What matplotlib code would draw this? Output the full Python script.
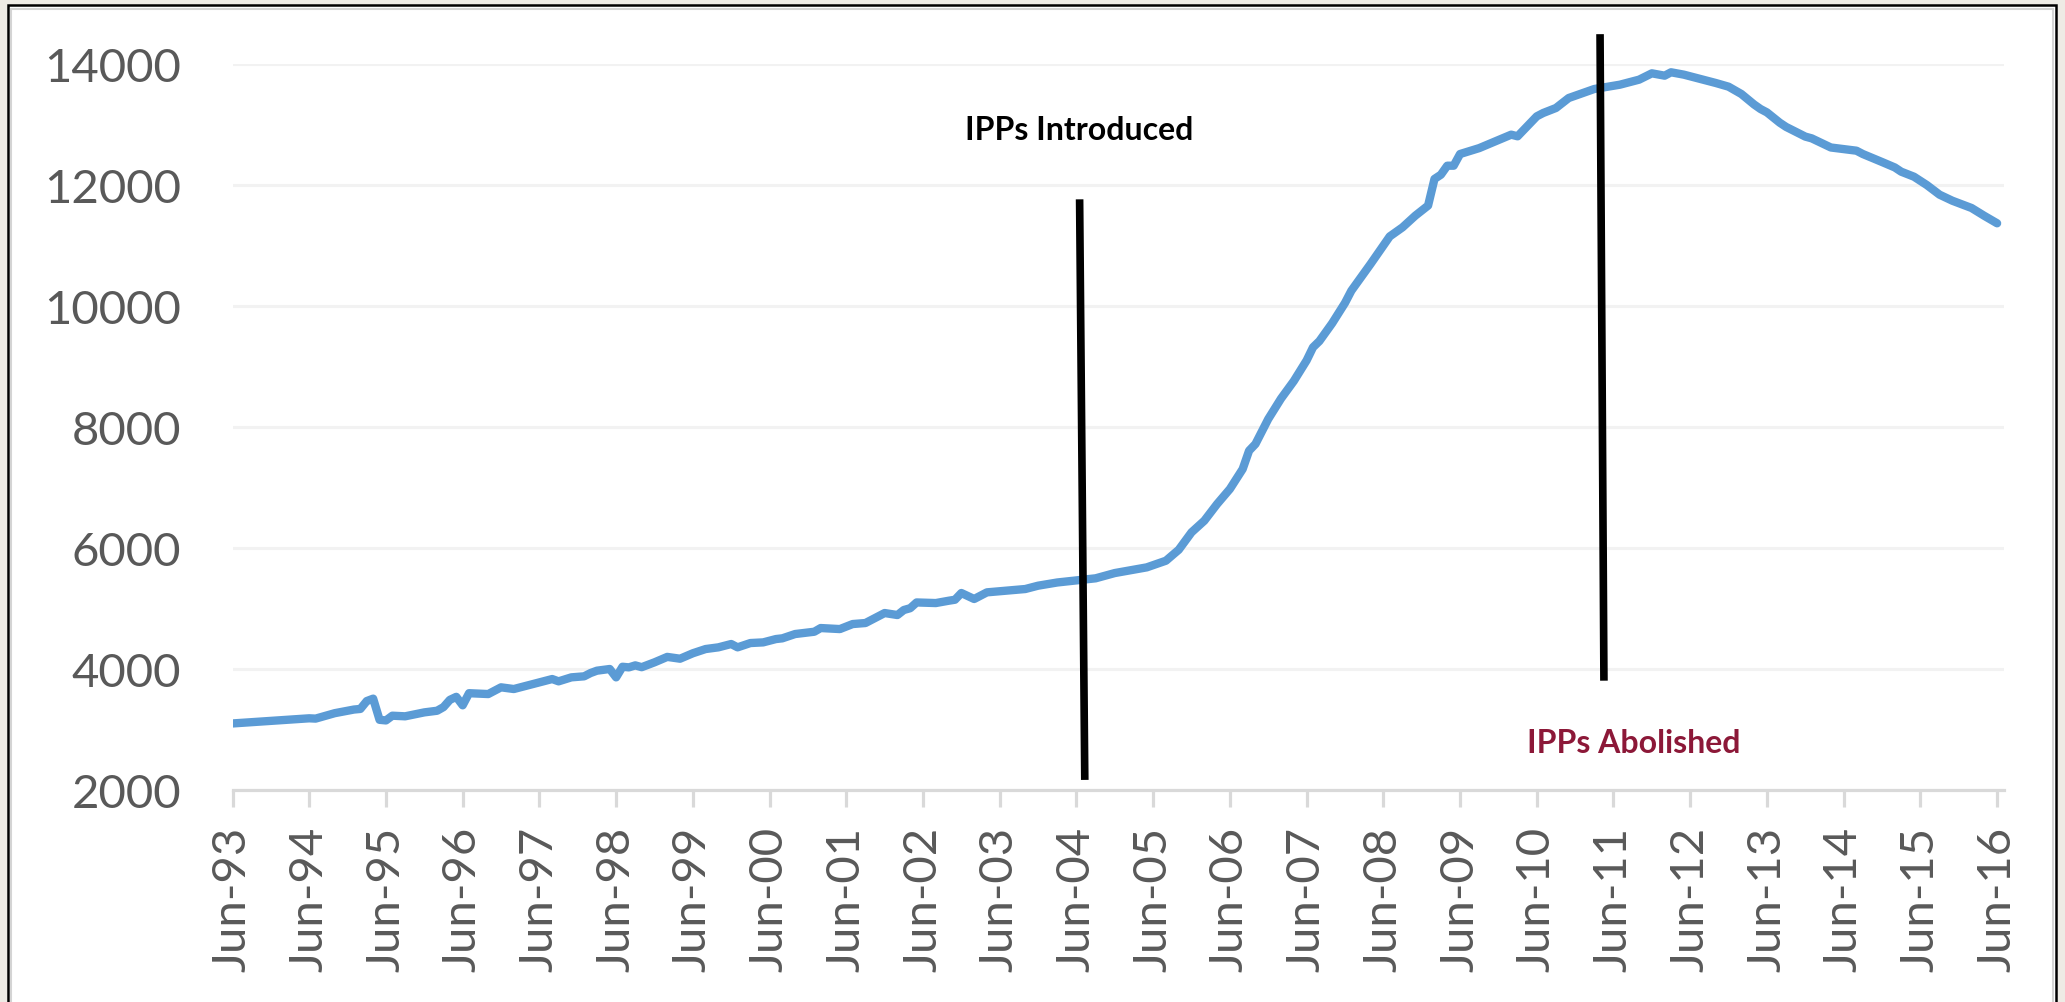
import matplotlib
matplotlib.use("Agg")
import matplotlib.pyplot as plt
from matplotlib.patches import Rectangle

# monthly series (year-month, value)
dates = [
    "1993-06", "1994-06", "1994-07", "1994-10", "1995-01", "1995-02", "1995-03",
    "1995-04", "1995-05", "1995-06", "1995-07", "1995-09", "1995-12", "1996-02",
    "1996-03", "1996-04", "1996-05", "1996-06", "1996-07", "1996-10", "1996-12",
    "1997-02", "1997-04", "1997-08", "1997-09", "1997-11", "1998-01", "1998-02",
    "1998-03", "1998-05", "1998-06", "1998-07", "1998-08", "1998-09", "1998-10",
    "1998-12", "1999-02", "1999-04", "1999-06", "1999-08", "1999-10", "1999-12",
    "2000-01", "2000-03", "2000-05", "2000-07", "2000-08", "2000-10", "2001-01",
    "2001-02", "2001-05", "2001-07", "2001-09", "2001-12", "2002-02", "2002-03",
    "2002-04", "2002-05", "2002-08", "2002-10", "2002-11", "2002-12", "2003-02",
    "2003-04", "2003-07", "2003-10", "2003-12", "2004-03", "2004-09", "2004-12",
    "2005-05", "2005-08", "2005-10", "2005-12", "2006-02", "2006-04", "2006-06",
    "2006-08", "2006-09", "2006-10", "2006-12", "2007-02", "2007-04", "2007-06",
    "2007-07", "2007-08", "2007-10", "2007-12", "2008-01", "2008-04", "2008-07",
    "2008-09", "2008-11", "2009-01", "2009-02", "2009-03", "2009-04", "2009-05",
    "2009-06", "2009-09", "2009-12", "2010-02", "2010-03", "2010-06", "2010-07",
    "2010-09", "2010-11", "2011-03", "2011-07", "2011-10", "2011-12", "2012-02",
    "2012-03", "2012-05", "2012-07", "2012-10", "2012-12", "2013-02", "2013-04",
    "2013-05", "2013-06", "2013-08", "2013-09", "2013-12", "2014-01", "2014-04",
    "2014-08", "2014-09", "2014-12", "2015-02", "2015-03", "2015-05", "2015-07",
    "2015-09", "2015-11", "2016-02", "2016-04", "2016-06",
]
values = [
    3100, 3185, 3180, 3270, 3330, 3340, 3470,
    3510, 3160, 3150, 3228, 3218, 3283, 3310,
    3370, 3490, 3540, 3400, 3600, 3586, 3697,
    3669, 3724, 3834, 3796, 3862, 3879, 3933,
    3972, 4000, 3862, 4037, 4027, 4060, 4030,
    4110, 4200, 4170, 4260, 4330, 4358, 4413,
    4358, 4429, 4440, 4495, 4507, 4578, 4616,
    4677, 4660, 4743, 4760, 4925, 4892, 4975,
    5005, 5100, 5090, 5128, 5145, 5256, 5157,
    5267, 5294, 5322, 5377, 5430, 5499, 5586,
    5680, 5790, 5971, 6259, 6451, 6727, 6975,
    7305, 7608, 7719, 8132, 8470, 8760, 9100,
    9317, 9420, 9715, 10050, 10253, 10694, 11150,
    11300, 11493, 11660, 12100, 12170, 12319, 12319,
    12512, 12610, 12744, 12832, 12805, 13135, 13190,
    13273, 13438, 13587, 13658, 13741, 13846, 13807,
    13863, 13824, 13769, 13686, 13625, 13504, 13330,
    13256, 13200, 13030, 12960, 12800, 12771, 12620,
    12567, 12512, 12380, 12290, 12220, 12137, 12000,
    11840, 11740, 11620, 11490, 11367,
]

tick_labels = ["Jun-%02d" % (y % 100) for y in range(1993, 2017)]
y_ticks = [2000, 4000, 6000, 8000, 10000, 12000, 14000]

# hand-drawn marker lines (month index from Jun-93, value)
intro_x = [132.5, 133.3]
intro_y = [11700, 2230]
abol_x = [213.9, 214.5]
abol_y = [14430, 3870]


def month_index(s):
    y, m = s.split("-")
    return (int(y) - 1993) * 12 + int(m) - 6


x = [month_index(d) for d in dates]

plt.rcParams["font.family"] = ["Lato", "DejaVu Sans"]

W, H = 2065, 1003
fig = plt.figure(figsize=(W / 100, H / 100), dpi=100, facecolor="#EEEBE5")

# white chart panel with a black frame, bottom edge runs off the picture
fig.add_artist(Rectangle((8 / W, -0.05), (2055.5 - 8) / W, 1.05 - 6 / H,
                         transform=fig.transFigure, facecolor="white",
                         edgecolor="black", lw=1.8, zorder=0))
fig.add_artist(Rectangle((11 / W, -0.05), (2052.5 - 11) / W, 1.05 - 9.5 / H,
                         transform=fig.transFigure, facecolor="none",
                         edgecolor="#D4D4D4", lw=1.5, zorder=0))

ax = fig.add_axes([232.5 / W, (H - 791) / H, 1771 / W, 726 / H])
ax.set_facecolor("none")

ax.plot(x, values, color="#5B9BD5", lw=6, solid_capstyle="round",
        solid_joinstyle="round", zorder=3)

ax.set_xlim(0, 277)
ax.set_ylim(2000, 14000)
ax.set_yticks(y_ticks)
ax.set_xticks(range(0, 277, 12))
ax.set_xticklabels(tick_labels, rotation=90)

ax.grid(axis="y", color="#F2F2F2", lw=2.2)
ax.set_axisbelow(True)
for s in ["left", "top", "right"]:
    ax.spines[s].set_visible(False)
ax.spines["bottom"].set_color("#D9D9D9")
ax.spines["bottom"].set_linewidth(2.3)

ax.tick_params(axis="y", length=0, pad=37, labelsize=34, labelcolor="#595959")
ax.tick_params(axis="x", length=12, width=2.3, color="#D9D9D9", pad=14,
               labelsize=34, labelcolor="#595959")

ax.plot(intro_x, intro_y, color="black", lw=5.5, clip_on=False, zorder=4)
ax.plot(abol_x, abol_y, color="black", lw=5.5, clip_on=False, zorder=4)

ax.text(132.5, 12760, "IPPs Introduced", ha="center", va="baseline",
        fontsize=23, fontweight="bold", color="black")
ax.text(219.1, 2632, "IPPs Abolished", ha="center", va="baseline",
        fontsize=23, fontweight="bold", color="#8C1838")

fig.savefig("out.png", dpi=100, facecolor=fig.get_facecolor())
